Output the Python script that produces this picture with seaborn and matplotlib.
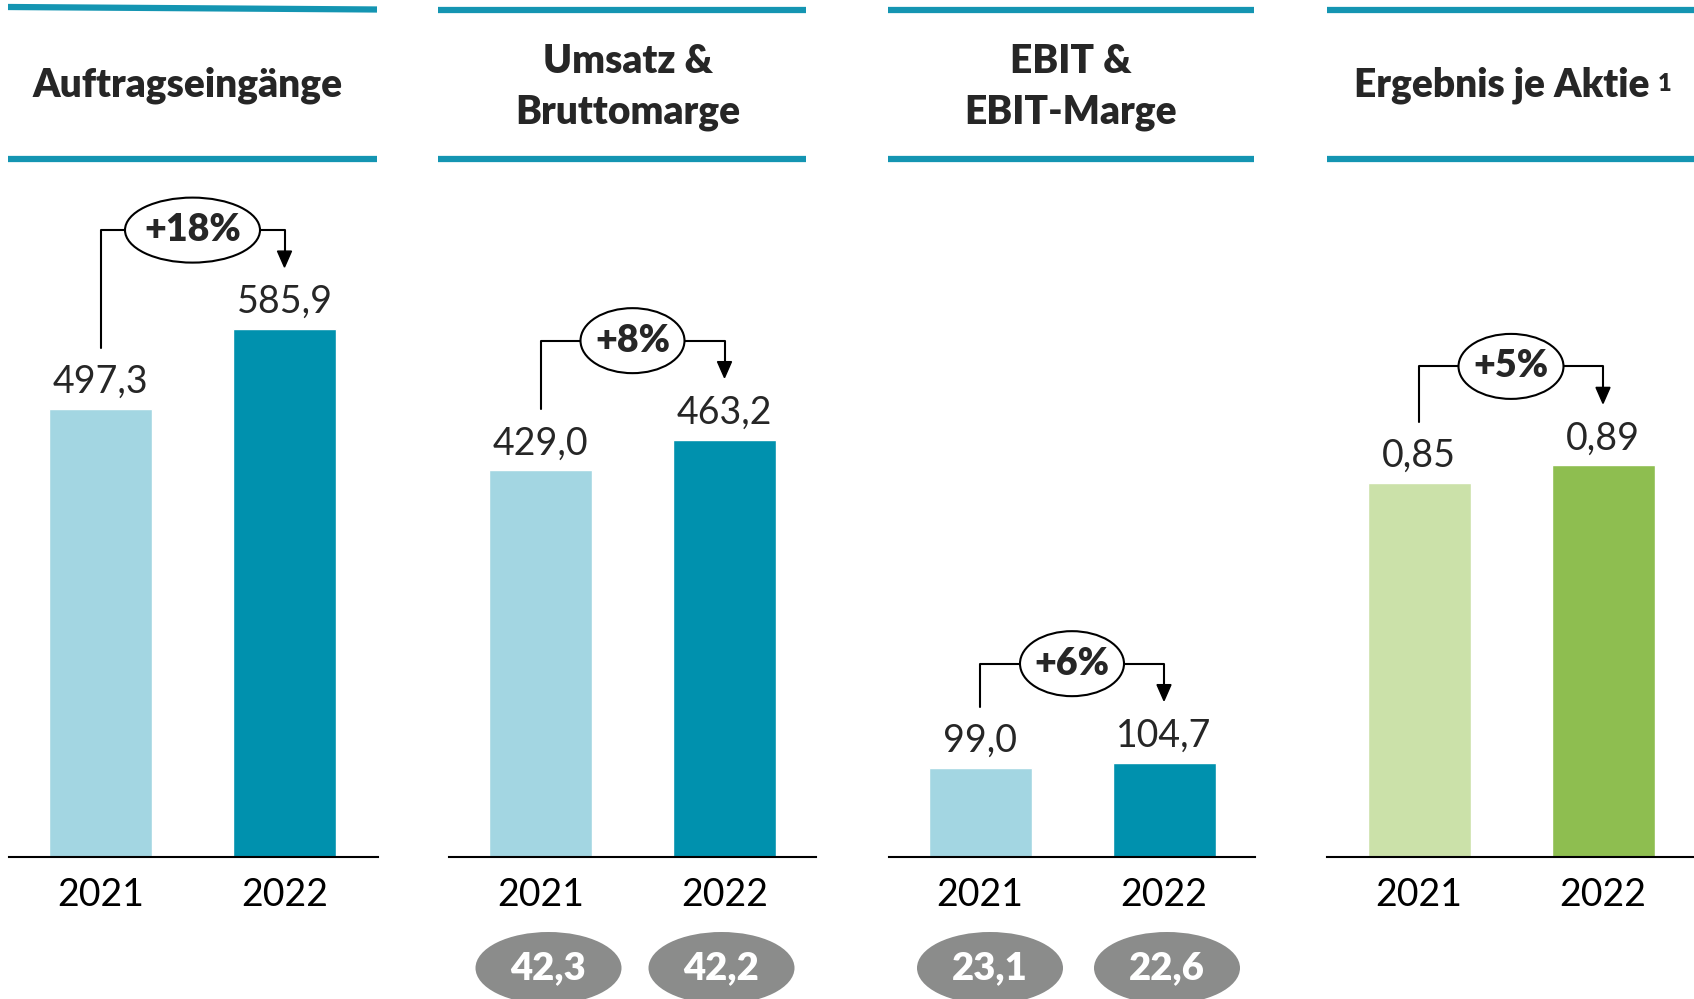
import numpy as np
import pandas as pd
import matplotlib.pyplot as plt
from matplotlib.patches import Ellipse, Polygon
import seaborn as sns

W, H = 1694, 999

# Daten
years = ["2021", "2022"]
auftragseingaenge = [497.3, 585.9]
umsatz = [429.0, 463.2]
ebit = [99.0, 104.7]
ergebnis_je_aktie = [0.85, 0.89]
bruttomarge = [42.3, 42.2]
ebit_marge = [23.1, 22.6]
changes = ["+18%", "+8%", "+6%", "+5%"]
titles = ["Auftragseingänge", "Umsatz &\nBruttomarge", "EBIT &\nEBIT-Marge", "Ergebnis je Aktie"]

LIGHT_BLUE, DARK_BLUE = "#A3D6E2", "#0091AE"
LIGHT_GREEN, GREEN = "#CBE1A9", "#8EBE50"
HEADER = "#1495B2"
GREY = "#8B8C8B"

# Layout in Pixeln (y von oben)
base_y = 857
top_px = 175
spacing = 184
bar_w = 103
baselines = [(9, 378), (449, 816), (889, 1255), (1327, 1694)]
headers = [(8, 377), (438, 806), (888, 1254), (1327, 1694)]
first_bar = [100.5, 540.5, 980, 1419]
px_per_unit = [0.901, 0.901, 0.901, 440.0]
decimals = [1, 1, 1, 2]
change_w = [135, 104, 104, 105]
title_dx = [-5, 6, 0, -9]
title_y = [85, 87, 87, 85]
margin_dx = {1: [8, -3], 2: [10, 3]}

sns.set_theme(style="white")
plt.rcParams["font.family"] = ["Lato", "DejaVu Sans"]

fig = plt.figure(figsize=(W / 100, H / 100), dpi=100)
overlay = fig.add_axes([0, 0, 1, 1], zorder=5)
overlay.set_xlim(0, W)
overlay.set_ylim(H, 0)
overlay.axis("off")


def to_px(ax, x, y):
    dx, dy = ax.transData.transform((x, y))
    return dx, H - dy


def fmt(v, d):
    return f"{v:.{d}f}".replace(".", ",")


def draw_panel(i, values, palette, margins=None):
    L, R = baselines[i]
    c0 = first_bar[i]
    ax = fig.add_axes([L / W, (H - base_y) / H, (R - L) / W, (base_y - top_px) / H])
    df = pd.DataFrame({"Jahr": years, "Wert": values})
    sns.barplot(data=df, x="Jahr", y="Wert", hue="Jahr", palette=palette,
                width=bar_w / spacing, saturation=1, legend=False, ax=ax)
    ax.set_xlim((L - c0) / spacing, (R - c0) / spacing)
    ax.set_ylim(0, (base_y - top_px) / px_per_unit[i])
    ax.set_yticks([])
    ax.set_xlabel("")
    ax.set_ylabel("")
    sns.despine(ax=ax, left=True)
    ax.spines["bottom"].set_color("black")
    ax.spines["bottom"].set_linewidth(1.5)
    ax.tick_params(axis="x", length=0, pad=14.3, labelsize=27, labelcolor="black")

    # Kopfzeile (erste obere Linie leicht schraeg wie im Original)
    hl, hr = headers[i]
    top_y = (7, 9.5) if i == 0 else (9.5, 9.5)
    overlay.plot([hl, hr], list(top_y), color=HEADER, lw=4.5, solid_capstyle="butt")
    overlay.plot([hl, hr], [159, 159], color=HEADER, lw=4.5, solid_capstyle="butt")
    cx = (hl + hr) / 2 + title_dx[i]
    t = overlay.text(cx, title_y[i], titles[i], ha="center", va="center", fontsize=28,
                     fontweight="heavy", linespacing=1.45)
    if i == 3:
        overlay.annotate("1", xy=(1, 1), xycoords=t, xytext=(6, -5), textcoords="offset points",
                         ha="left", va="top", fontsize=17, fontweight="heavy")

    # Werte
    pts = [to_px(ax, k, v) for k, v in enumerate(values)]
    for (x, y), v in zip(pts, values):
        overlay.text(x, y - 16, fmt(v, decimals[i]), ha="center", va="baseline", fontsize=27)

    # Veraenderung
    (x0, y0), (x1, y1) = pts
    by = y1 - 99
    overlay.plot([x0, x0, x1, x1], [y0 - 61, by, by, y1 - 76], color="black", lw=1.5, zorder=2)
    overlay.add_patch(Polygon([(x1 - 7, y1 - 78), (x1 + 7, y1 - 78), (x1, y1 - 62)],
                              closed=True, color="black", zorder=2))
    mx = (x0 + x1) / 2
    overlay.add_patch(Ellipse((mx, by), change_w[i], 65, facecolor="white",
                              edgecolor="black", lw=1.5, zorder=3))
    overlay.text(mx, by, changes[i], ha="center", va="center", fontsize=27,
                 fontweight="heavy", zorder=4)

    # Margen
    if margins is not None:
        for (x, _), m, dx in zip(pts, margins, margin_dx[i]):
            overlay.add_patch(Ellipse((x + dx, 968), 146, 72, facecolor=GREY,
                                      edgecolor="none", zorder=3))
            overlay.text(x + dx, 968, fmt(m, 1), ha="center", va="center", fontsize=27.5,
                         fontweight="heavy", color="white", zorder=4)


draw_panel(0, auftragseingaenge, [LIGHT_BLUE, DARK_BLUE])
draw_panel(1, umsatz, [LIGHT_BLUE, DARK_BLUE], bruttomarge)
draw_panel(2, ebit, [LIGHT_BLUE, DARK_BLUE], ebit_marge)
draw_panel(3, ergebnis_je_aktie, [LIGHT_GREEN, GREEN])

fig.savefig("out.png", dpi=100)
